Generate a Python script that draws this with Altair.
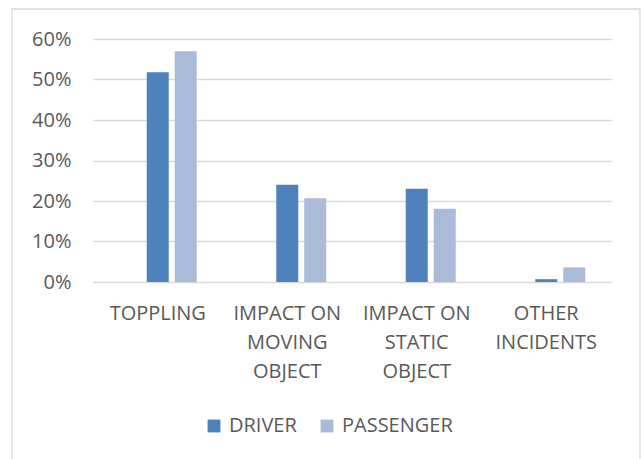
import altair as alt
import pandas as pd

# Incident categories ("|" marks a line break in the axis label)
categories = ["TOPPLING", "IMPACT ON|MOVING|OBJECT", "IMPACT ON|STATIC|OBJECT", "OTHER|INCIDENTS"]
series = ["DRIVER", "PASSENGER"]
driver = [0.518, 0.240, 0.230, 0.007]
passenger = [0.570, 0.207, 0.181, 0.036]

colors = ["#4f81bd", "#aabbd9"]
text_color = "#595959"
grid_color = "#d9d9d9"
font = "Open Sans"
font_size = 20

rows = []
for cat, d, p in zip(categories, driver, passenger):
    rows.append({"category": cat, "series": "DRIVER", "value": d})
    rows.append({"category": cat, "series": "PASSENGER", "value": p})
df = pd.DataFrame(rows)

W, H = 518, 243
PAD = {"left": 93, "top": 39, "right": 31, "bottom": 177}

bars = alt.Chart(df).mark_bar().encode(
    x=alt.X(
        "category:N",
        sort=categories,
        scale=alt.Scale(paddingInner=0, paddingOuter=0),
        axis=alt.Axis(
            title=None,
            labelAngle=0,
            labelExpr="split(datum.value, '|')",
            labelLineHeight=29,
            labelPadding=21,
            labelFontSize=font_size,
            labelFont=font,
            labelColor=text_color,
            ticks=False,
            tickSize=0,
            domain=False,
            grid=False,
        ),
    ),
    xOffset=alt.XOffset(
        "series:N",
        scale=alt.Scale(domain=[" "] + series, paddingInner=0.214, paddingOuter=0.92),
    ),
    y=alt.Y(
        "value:Q",
        scale=alt.Scale(domain=[0, 0.6], nice=False),
        axis=alt.Axis(
            title=None,
            format=".0%",
            values=[0, 0.1, 0.2, 0.3, 0.4, 0.5, 0.6],
            labelFontSize=font_size,
            labelFont=font,
            labelColor=text_color,
            labelPadding=22,
            ticks=False,
            tickSize=0,
            domain=False,
            gridColor=grid_color,
            gridWidth=1.3,
        ),
    ),
    color=alt.Color(
        "series:N",
        scale=alt.Scale(domain=series, range=colors),
        legend=alt.Legend(
            title=None,
            orient="none",
            direction="horizontal",
            legendX=111,
            legendY=377,
            symbolType="square",
            symbolSize=165,
            symbolStrokeWidth=0,
            labelFontSize=font_size,
            labelFont=font,
            labelColor=text_color,
            labelOffset=5,
            columnPadding=20,
        ),
    ),
)

# Light outer frame around the whole chart
frame = alt.Chart(pd.DataFrame({"k": [0]})).mark_rect(
    fill=None, stroke=grid_color, strokeWidth=1.3
).encode(
    x=alt.value(-81), x2=alt.value(547), y=alt.value(-30), y2=alt.value(440)
)

chart = alt.layer(frame, bars).properties(
    width=W,
    height=H,
    padding=PAD,
    background="white",
    autosize=alt.AutoSizeParams(type="none"),
).configure_view(stroke="transparent", strokeWidth=0)

chart.save("out.html", embed_options={"renderer": "svg", "actions": False})
